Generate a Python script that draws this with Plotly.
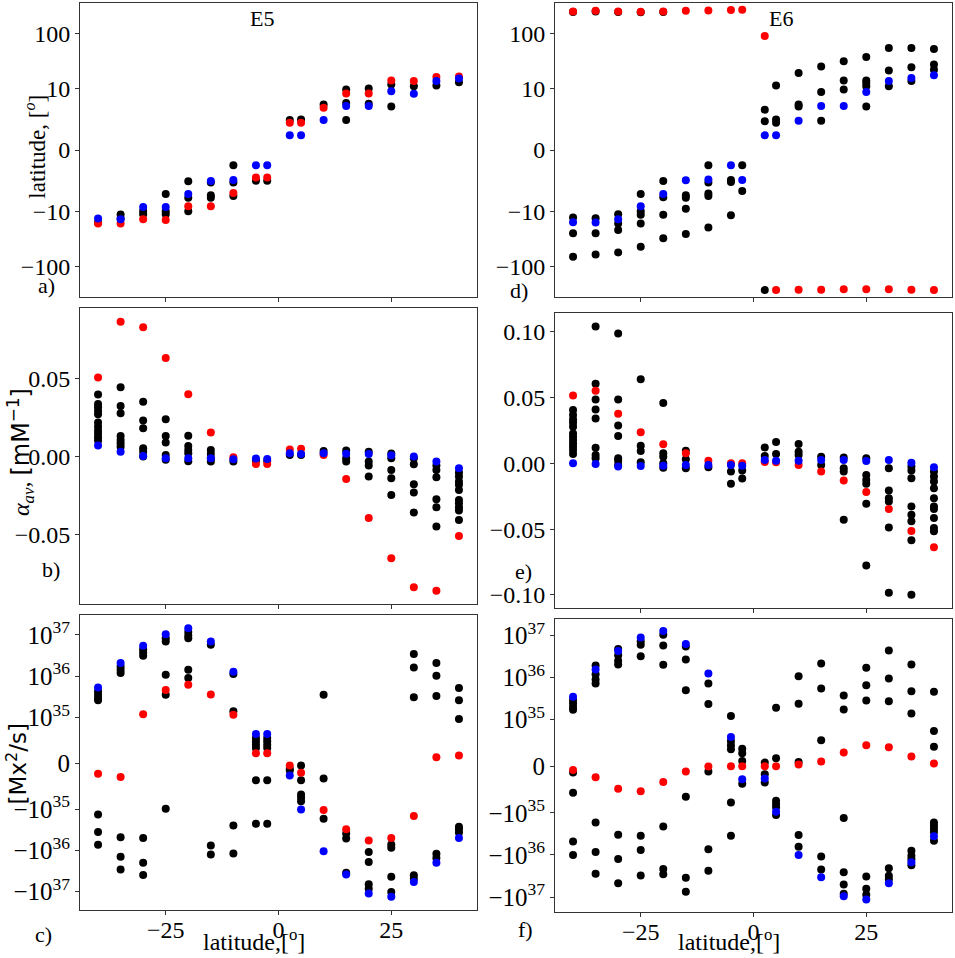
import math
import plotly.graph_objects as go

LAT = [-40, -35, -30, -25, -20, -15, -10, -5, -2.5, 2.5, 5, 10, 15, 20, 25, 30, 35, 40]

# a) E5 latitude
RED_A = [-16.7, -16.7, -14.0, -14.4, -9.2, -9.2, -7.0, -4.5, -4.5, 4.45, 4.45, 6.9, 9.24, 9.24, 14.2, 13.9, 16.5, 16.7]
BLUE_A = [-13.6, -14.0, -9.3, -9.3, -7.2, -5.05, -4.9, -2.5, -2.5, 2.4, 2.4, 4.9, 7.2, 7.2, 9.6, 9.2, 13.9, 15.4]
BLACK_A = [
    [-16.0], [-11.5, -13.5], [-9.95, -11.3], [-7.2, -10.0, -11.3], [-5.1, -7.8, -10.0],
    [-5.3, -7.4, -7.8], [-2.5, -5.3, -7.5], [-5.0], [-5.0], [4.9], [5.0], [7.45],
    [9.9, 7.7, 4.9], [10.1, 7.55], [12.0, 7.1], [11.2], [11.5], [13.2],
]

# d) E6 latitude
RED_D = [255, 263, 255, 251, 255, 263, 266, 270, 274, 91, -270, -265, -265, -262, -262, -262, -265, -270]
BLUE_D = [-15.8, -16.0, -14.0, -9.2, -7.2, -4.95, -4.8, -2.5, -4.9, 2.4, 2.4, 4.8, 7.2, 7.2, 9.5, 13.9, 15.7, 17.7]
BLACK_D = [
    [248, -13.0, -25, -67], [255, -13.4, -25, -61], [248, -11.3, -16.7, -22, -56],
    [245, -7.2, -10.0, -11.6, -16.7, -44], [248, -5.05, -7.7, -11.6, -31], [-7.4, -7.8, -9.6, -26],
    [-2.5, -5.3, -7.1, -7.5, -19.8], [-4.9, -5.2, -11.8], [-2.5, -6.7], [6.6, 4.7, -270],
    [11.5, 5.0, 4.45], [19.5, 7.45, 7.1], [25.4, 9.5, 4.8], [31.7, 14.2, 9.9],
    [38, 14.2, 12.8, 11.2, 7.1], [55, 21.5, 11.2], [55, 24.7, 13.9], [53, 27.6, 22.3],
]

# b) E5 alpha_av
RED_B = [0.0509, 0.0869, 0.0833, 0.0635, 0.0401, 0.0155, -0.0004, -0.0047, -0.0047, 0.0045, 0.0051, 0.001,
         -0.0144, -0.0395, -0.0655, -0.0841, -0.0865, -0.0511]
BLUE_B = [0.0071, 0.0032, 0.0004, -0.001, -0.001, -0.001, -0.0017, -0.0013, -0.0015, 0.0021, 0.0017, 0.0021,
          0.0019, 0.0017, 0.0009, 0.0, -0.0032, -0.0075]
BLACK_B = [
    [0.040, 0.0339, 0.0318, 0.0294, 0.0273, 0.0219, 0.0193, 0.0167, 0.0146, 0.0124, 0.0103],
    [0.0446, 0.0326, 0.0279, 0.0133, 0.0107, 0.0086, 0.0064],
    [0.0354, 0.0232, 0.0182, 0.0054, 0.0032, 0.0],
    [0.024, 0.0133, 0.009, 0.001, -0.002],
    [0.0135, 0.0069, 0.0043, 0.0021, -0.003],
    [0.0043, 0.0017, -0.001, -0.0032],
    [-0.0032], [-0.0026], [-0.0028], [0.001], [0.001], [0.0036],
    [0.0039, -0.001, -0.0032],
    [0.0032, -0.0032, -0.0058, -0.0129],
    [0.002, -0.001, -0.0086, -0.014, -0.0247],
    [-0.001, -0.0049, -0.0178, -0.0232, -0.036],
    [-0.0058, -0.0086, -0.0133, -0.0275, -0.0326, -0.045],
    [-0.0103, -0.0129, -0.0161, -0.0182, -0.0215, -0.0279, -0.030, -0.0326, -0.0348, -0.0408],
]

# e) E6 alpha_av
RED_E = [0.0515, 0.0552, 0.0376, 0.0235, 0.0144, 0.0076, 0.002, 0.0, 0.0, 0.001, 0.0008, -0.0013,
         -0.0063, -0.0131, -0.0217, -0.0348, -0.0514, -0.0638]
BLUE_E = [0.0, -0.0005, -0.0025, -0.002, -0.0018, -0.0013, -0.0013, -0.0013, -0.0018, 0.0025, 0.002, 0.002,
          0.0025, 0.0025, 0.0018, 0.0025, 0.0005, -0.003]
BLACK_E = [
    [0.0404, 0.0366, 0.0333, 0.0308, 0.0277, 0.0227, 0.0202, 0.0177, 0.0151, 0.0126, 0.0101, 0.0071],
    [0.1039, 0.0605, 0.0484, 0.0409, 0.034, 0.0119, 0.0063, 0.0038],
    [0.0986, 0.0484, 0.0288, 0.0207, 0.0038, 0.002, -0.0013],
    [0.0638, 0.0134, 0.0093, 0.0008],
    [0.0459, 0.0076, 0.005, 0.0, -0.0033],
    [0.0096, 0.003, -0.0038],
    [-0.003], [-0.0063, -0.0156], [-0.0055, -0.0116],
    [0.0121, 0.0055], [0.0161, 0.0071], [0.0146, 0.0088, 0.0063],
    [0.005, -0.0013],
    [0.0045, -0.0038, -0.0063, -0.0429],
    [0.0038, -0.0088, -0.0126, -0.0156, -0.0308, -0.0777],
    [-0.0038, -0.0207, -0.0265, -0.029, -0.0487, -0.0984],
    [-0.0025, -0.0055, -0.0113, -0.0328, -0.0391, -0.0441, -0.0585, -0.0999],
    [-0.0063, -0.0101, -0.0139, -0.0189, -0.0265, -0.0328, -0.0348, -0.0416, -0.0492, -0.0517],
]

# c) E5 flux, in units of 1e35 Mx^2/s
RED_C = [-0.232, -0.298, 1.19, 4.6, 6.2, 3.6, 1.16, 0.218, 0.218, -0.051, -0.21, -1.06, -3.1, -5.75, -5.06,
         -1.48, 0.131, 0.167]
BLUE_C = [5.3, 20.7, 54.5, 104, 145, 69, 12.8, 0.639, 0.639, -0.269, -1.02, -10.6, -38.3, -112, -133,
          -58.6, -20, -5.06]
BLACK_C = [
    [4.3, 3.55, 2.95, 2.6, -1.35, -3.6, -7.3],
    [17.2, 14.3, 11.9, -4.8, -14.3, -29],
    [45, 37.5, 31.2, -5.06, -20, -39.7],
    [83, 69, 10.8, 3.55, -0.994],
    [117, 95, 83, 14.3, 9.0],
    [57.5, -7.6, -12.6],
    [11.2, 1.4, -2.5, -11.9],
    [0.552, 0.479, 0.406, 0.334, -0.37, -2.27],
    [0.552, 0.479, 0.406, 0.334, -0.37, -2.27],
    [-0.123, -0.156],
    [-0.051, -0.37, -0.682, -0.755, -0.83],
    [3.55, -0.334, -1.72],
    [-3.9, -5.15, -35],
    [-11, -19.2, -66.7, -85],
    [-7.2, -8.7, -43.5, -102],
    [34.2, 16.3, 3.1, -40.4, -49],
    [20.7, 10.2, 3.3, -12.1, -15.3],
    [5.15, 2.6, 0.966, -2.7, -3.1, -3.7],
]

# f) E6 flux, in units of 1e35 Mx^2/s
RED_F = [-0.078, -0.235, -0.484, -0.534, -0.335, -0.114, -0.007, 0.0, 0.0, 0.0, 0.0, 0.036, 0.1, 0.292, 0.448,
         0.406, 0.206, 0.057]
BLUE_F = [3.48, 15.5, 43, 90, 128, 63, 12.4, 0.626, -0.277, -0.263, -0.975, -10, -33.8, -95.5, -115, -47,
          -14.9, -3.6]
BLACK_F = [
    [2.9, 2.4, 2.0, 1.7, -0.135, -0.569, -4.8, -10],
    [19.2, 12, 9.0, 7.2, -1.68, -8.5, -28],
    [47.8, 34, 25, 20.3, -3.3, -12.4, -47],
    [72.6, 60, 32, -3.48, -7.6, -30.9],
    [104, 57.8, 20, -2.09, -21.5, -28.7],
    [55, 26.7, 5.0, -0.655, -35, -75],
    [7.2, 2.33, -0.114, -7.3, -23.6],
    [1.21, 0.54, 0.448, 0.363, -0.776, -3.48],
    [0.377, 0.277, 0.114, -0.377],
    [0.078, -0.17, -0.349],
    [1.9, 0.171, -0.74, -0.81, -0.88, -1.12],
    [10.7, 2.37, 0.092, -3.35, -6.4],
    [21.5, 5.5, 0.555, -10.9, -22.3],
    [3.74, 1.74, -1.32, -25.8, -50.5, -84],
    [17, 6.5, 2.85, -32.7, -64, -88],
    [43.7, 9.5, 2.74, -20.7, -31, -38],
    [20.3, 4.74, 1.4, -7.9, -10.4, -12.6, -17.5],
    [4.57, 0.754, 0.42, -1.68, -2.0, -2.39, -2.85, -4.57],
]

LAT_TICKS = [-100, -10, 0, 10, 100]
LAT_TICKTEXT = ["\u2212100", "\u221210", "0", "10", "100"]
FLUX_TICKS = [-100, -10, -1, 0, 1, 10, 100]
FLUX_TICKTEXT = ["\u221210<sup>37</sup>", "\u221210<sup>36</sup>", "\u221210<sup>35</sup>", "0",
                 "10<sup>35</sup>", "10<sup>36</sup>", "10<sup>37</sup>"]

W, H = 955, 958
SERIF = "Liberation Serif"
SANS = "DejaVu Sans"
LINSC = 1 / (1 - 1 / 10)  # matplotlib-style symlog linear scale


def symlog(v, lt):
    a = abs(v) / lt
    s = 1 if v >= 0 else -1
    if a <= 1:
        return s * a * LINSC
    return s * (LINSC + math.log10(a))


# panel: (black, red, blue, linthresh or None, x px, y px, yrange, yticks, yticktext, tick size, bottom row)
panels = [
    (BLACK_A, RED_A, BLUE_A, 10, (80, 477), (2, 297), [-2.675, 2.67], LAT_TICKS, LAT_TICKTEXT, 24, False),
    (BLACK_D, RED_D, BLUE_D, 10, (555, 952), (2, 297), [-2.675, 2.67], LAT_TICKS, LAT_TICKTEXT, 24, False),
    (BLACK_B, RED_B, BLUE_B, None, (80, 477), (308, 604), [-0.0948, 0.0955], [-0.05, 0, 0.05],
     ["\u22120.05", "0.00", "0.05"], 24, False),
    (BLACK_E, RED_E, BLUE_E, None, (555, 952), (313, 608), [-0.1097, 0.1139], [-0.1, -0.05, 0, 0.05, 0.1],
     ["\u22120.10", "\u22120.05", "0.00", "0.05", "0.10"], 24, False),
    (BLACK_C, RED_C, BLUE_C, 1, (80, 477), (615, 911), [-3.56, 3.60], FLUX_TICKS, FLUX_TICKTEXT, 25, True),
    (BLACK_F, RED_F, BLUE_F, 1, (555, 952), (619, 913), [-3.47, 3.51], FLUX_TICKS, FLUX_TICKTEXT, 25, True),
]

fig = go.Figure()
layout = {}
for i, (blk, red, blu, lt, xp, yp, yr, ytv, ytt, tsz, bottom) in enumerate(panels):
    n = "" if i == 0 else str(i + 1)
    tr = (lambda v: symlog(v, lt)) if lt else (lambda v: v)
    bx, by = [], []
    for lat, vals in zip(LAT, blk):
        for v in vals:
            bx.append(lat)
            by.append(tr(v))
    for xs, ys, col in [(bx, by, "black"),
                        (LAT, [tr(v) for v in red], "#ff0000"),
                        (LAT, [tr(v) for v in blu], "#0000ff")]:
        fig.add_trace(go.Scatter(x=xs, y=ys, mode="markers", xaxis="x" + n, yaxis="y" + n,
                                 marker=dict(color=col, size=8, line=dict(width=0)),
                                 showlegend=False))
    common = dict(showline=True, linecolor="#333", linewidth=1, mirror=True, ticks="outside",
                  ticklen=4, tickcolor="#333", showgrid=False, zeroline=False)
    layout["xaxis" + n] = dict(common, domain=[xp[0] / W, xp[1] / W], range=[-44, 44],
                               tickvals=[-25, 0, 25], ticktext=["\u221225", "0", "25"],
                               tickfont=dict(family=SERIF, size=24, color="black"),
                               ticklabelstandoff=-6,
                               showticklabels=bottom, anchor="y" + n)
    layout["yaxis" + n] = dict(common, domain=[1 - yp[1] / H, 1 - yp[0] / H], range=yr,
                               tickfont=dict(family=SERIF, size=tsz, color="black"),
                               tickvals=[tr(v) for v in ytv], ticktext=ytt, anchor="x" + n)


def ann(text, x, y, size=22, angle=0, family=SERIF):
    return dict(text=text, x=x / W, y=1 - y / H, xref="paper", yref="paper", showarrow=False,
                xanchor="center", yanchor="middle", textangle=angle,
                font=dict(family=family, size=size, color="black"))


annotations = [
    ann("E5", 262, 18), ann("E6", 781, 18),
    ann("a)", 46, 285), ann("b)", 51, 570), ann("c)", 43, 935),
    ann("d)", 519, 290), ann("e)", 523, 572), ann("f)", 525, 930),
    ann("latitude, [<i><sup>o</sup></i>]", 36, 146, size=23, angle=-90),
    ann("<i>\u03b1<sub>av</sub></i>, <span style='font-family:DejaVu Sans'>[mM<sup>\u22121</sup>]</span>",
        20, 452, size=24, angle=-90),
    ann("[Mx<sup>2</sup>/s]", 17, 765, size=23, angle=-90, family=SANS),
    ann("latitude,[<sup>o</sup>]", 254, 941, size=24),
    ann("latitude,[<sup>o</sup>]", 729, 941, size=24),
]

fig.update_layout(width=W, height=H, margin=dict(l=0, r=0, t=0, b=0), plot_bgcolor="white",
                  paper_bgcolor="white", annotations=annotations, **layout)
# the page body has a default 8px margin; drop it so the figure fills the window
fig.write_html("out.html", config={"displayModeBar": False},
               post_script="document.body.style.margin='0';")
